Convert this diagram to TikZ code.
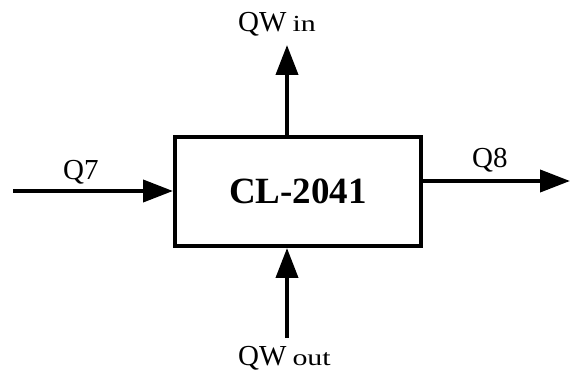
\documentclass[tikz,border=0pt]{standalone}
\usepackage{fontspec}
\setmainfont{Liberation Serif}
\usepackage{graphicx}
\usepackage{tikz}
\usetikzlibrary{arrows.meta, positioning, calc}

\newcommand{\subtxt}[1]{{\fontsize{23}{25}\selectfont\scalebox{1.3}[1]{#1}}}

\begin{document}
\begin{tikzpicture}[x=1pt, y=-1pt,
  flow/.style={line width=4pt, -{Triangle[length=30pt, width=22pt]}},
  lbl/.style={inner sep=0pt, anchor=base west, font=\fontsize{29}{31}\selectfont}]
  \useasboundingbox (0,0) rectangle (570,379);
  \node[draw, line width=4pt, minimum width=246pt, minimum height=109pt, inner sep=0pt, font=\fontsize{37}{40}\selectfont\bfseries] (cl) at (298,191.5) {CL-2041};
  % free ends
  \coordinate (q7start) at (13,191);
  \coordinate (q8end) at (570,181);
  \coordinate (qwintip) at (287,45);
  \coordinate (qwoutstart) at (287,338);
  \draw[flow] (q7start) -- (q7start -| cl.west);
  \draw[flow] (q8end -| cl.east) -- (q8end);
  \draw[flow] (qwintip |- cl.north) -- (qwintip);
  \draw[flow] (qwoutstart) -- (qwoutstart |- cl.south);
  % labels
  \node[lbl] (q7) at (63,180) {Q7};
  \node[lbl] (q8) at (472,168) {Q8};
  \node[lbl] (qwin) at (238,32) {QW\hspace{6pt}\subtxt{in}};
  \node[lbl] (qwout) at (238,365) {QW\hspace{6pt}\subtxt{out}};
\end{tikzpicture}
\end{document}
